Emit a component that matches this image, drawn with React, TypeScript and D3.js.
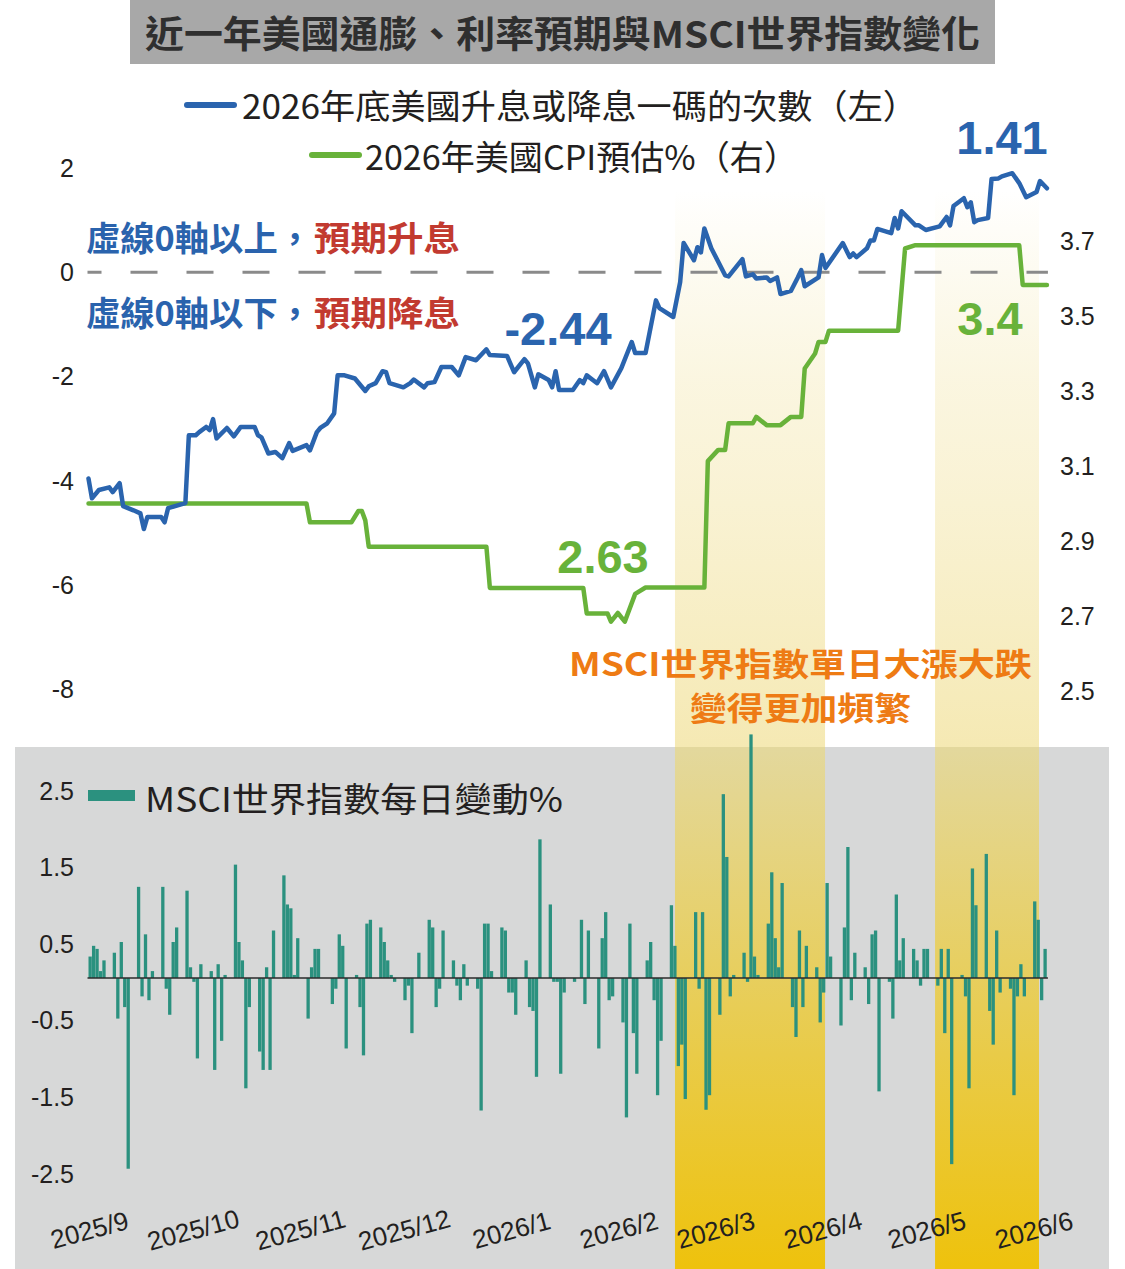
import React from 'react';
import * as d3 from 'd3';

const W = 1125;
const H = 1269;

const titleText = '近一年美國通膨、利率預期與MSCI世界指數變化';
const legendBlue = '2026年底美國升息或降息一碼的次數（左）';
const legendGreen = '2026年美國CPI預估%（右）';
const legendBar = 'MSCI世界指數每日變動%';
const noteUpBlue = '虛線0軸以上，';
const noteUpRed = '預期升息';
const noteDownBlue = '虛線0軸以下，';
const noteDownRed = '預期降息';
const orangeLine1 = 'MSCI世界指數單日大漲大跌';
const orangeLine2 = '變得更加頻繁';

const leftTicks = [2, 0, -2, -4, -6, -8];
const rightTicks = [3.7, 3.5, 3.3, 3.1, 2.9, 2.7, 2.5];
const barTicks = [2.5, 1.5, 0.5, -0.5, -1.5, -2.5];
const monthDates = ['2025-09-01', '2025-10-01', '2025-11-01', '2025-12-01', '2026-01-01', '2026-02-01', '2026-03-01', '2026-04-01', '2026-05-01', '2026-06-01'];
const monthLabels = ['2025/9', '2025/10', '2025/11', '2025/12', '2026/1', '2026/2', '2026/3', '2026/4', '2026/5', '2026/6'];

const blueDates = [
  '2025-09-01', '2025-09-02', '2025-09-04', '2025-09-07', '2025-09-08', '2025-09-10', '2025-09-11', '2025-09-14', '2025-09-16', '2025-09-17',
  '2025-09-18', '2025-09-22', '2025-09-23', '2025-09-24', '2025-09-28', '2025-09-29', '2025-09-30', '2025-10-02', '2025-10-03', '2025-10-05',
  '2025-10-06', '2025-10-07', '2025-10-08', '2025-10-11', '2025-10-13', '2025-10-15', '2025-10-19', '2025-10-20', '2025-10-21', '2025-10-23',
  '2025-10-25', '2025-10-27', '2025-10-29', '2025-10-30', '2025-11-03', '2025-11-04', '2025-11-06', '2025-11-07', '2025-11-09', '2025-11-11',
  '2025-11-12', '2025-11-14', '2025-11-17', '2025-11-20', '2025-11-21', '2025-11-23', '2025-11-25', '2025-11-26', '2025-11-27', '2025-12-01',
  '2025-12-03', '2025-12-04', '2025-12-07', '2025-12-08', '2025-12-10', '2025-12-12', '2025-12-15', '2025-12-17', '2025-12-19', '2025-12-22',
  '2025-12-25', '2025-12-26', '2025-12-31', '2026-01-02', '2026-01-05', '2026-01-06', '2026-01-08', '2026-01-09', '2026-01-12', '2026-01-13',
  '2026-01-14', '2026-01-15', '2026-01-16', '2026-01-19', '2026-01-21', '2026-01-22', '2026-01-23', '2026-01-26', '2026-01-28', '2026-01-30',
  '2026-02-02', '2026-02-05', '2026-02-06', '2026-02-09', '2026-02-12', '2026-02-13', '2026-02-17', '2026-02-19', '2026-02-20', '2026-02-23',
  '2026-02-24', '2026-02-25', '2026-02-26', '2026-02-28', '2026-03-04', '2026-03-05', '2026-03-09', '2026-03-10', '2026-03-12', '2026-03-13',
  '2026-03-16', '2026-03-17', '2026-03-19', '2026-03-20', '2026-03-23', '2026-03-25', '2026-03-26', '2026-03-27', '2026-03-31', '2026-04-01',
  '2026-04-02', '2026-04-07', '2026-04-09', '2026-04-10', '2026-04-11', '2026-04-14', '2026-04-15', '2026-04-16', '2026-04-17', '2026-04-21',
  '2026-04-22', '2026-04-23', '2026-04-24', '2026-04-28', '2026-04-29', '2026-05-01', '2026-05-05', '2026-05-07', '2026-05-08', '2026-05-09',
  '2026-05-12', '2026-05-13', '2026-05-14', '2026-05-15', '2026-05-16', '2026-05-19', '2026-05-20', '2026-05-22', '2026-05-23', '2026-05-26',
  '2026-05-28', '2026-05-30', '2026-06-02', '2026-06-03', '2026-06-05',
];
const blueValues = [
  -3.96, -4.34, -4.18, -4.13, -4.22, -4.05, -4.49, -4.57, -4.63, -4.93,
  -4.70, -4.70, -4.80, -4.53, -4.45, -4.43, -3.13, -3.13, -3.07, -2.97,
  -3.03, -2.82, -3.19, -2.99, -3.15, -2.97, -2.97, -3.13, -3.17, -3.48,
  -3.45, -3.57, -3.28, -3.43, -3.32, -3.42, -3.07, -2.99, -2.90, -2.71,
  -1.98, -1.98, -2.04, -2.28, -2.19, -2.13, -1.90, -1.92, -2.13, -2.21,
  -2.13, -2.06, -2.21, -2.13, -2.11, -1.82, -1.82, -1.98, -1.63, -1.69,
  -1.48, -1.59, -1.61, -1.92, -1.67, -1.75, -2.21, -1.96, -2.07, -2.21,
  -1.90, -2.26, -2.26, -2.26, -2.07, -2.13, -1.98, -2.13, -1.90, -2.21,
  -1.84, -1.34, -1.55, -1.55, -0.54, -0.69, -0.86, -0.19, 0.56, 0.23,
  0.48, 0.38, 0.84, 0.46, -0.06, -0.08, 0.25, -0.08, -0.04, -0.12,
  -0.10, -0.17, -0.10, -0.42, -0.36, -0.10, 0.04, -0.27, -0.10, 0.33,
  0.08, 0.56, 0.29, 0.36, 0.29, 0.46, 0.61, 0.61, 0.83, 0.75,
  1.04, 0.84, 1.17, 0.90, 0.90, 0.81, 0.88, 1.06, 0.90, 1.27,
  1.42, 1.25, 1.34, 0.96, 1.00, 1.04, 1.79, 1.80, 1.84, 1.90,
  1.71, 1.44, 1.54, 1.75, 1.61,
];

const greenDates = [
  '2025-09-01', '2025-11-03', '2025-11-04', '2025-11-16', '2025-11-18', '2025-11-19', '2025-11-20', '2025-11-21', '2025-12-25', '2025-12-26',
  '2026-01-22', '2026-01-23', '2026-01-29', '2026-01-30', '2026-02-01', '2026-02-03', '2026-02-06', '2026-02-09', '2026-02-26', '2026-02-27',
  '2026-03-02', '2026-03-04', '2026-03-05', '2026-03-12', '2026-03-13', '2026-03-16', '2026-03-20', '2026-03-23', '2026-03-26', '2026-03-27',
  '2026-03-30', '2026-03-31', '2026-04-02', '2026-04-03', '2026-04-23', '2026-04-25', '2026-04-28', '2026-05-28', '2026-05-29', '2026-06-05',
];
const greenValues = [
  3.0, 3.0, 2.95, 2.95, 2.98, 2.98, 2.955, 2.885, 2.885, 2.775,
  2.775, 2.707, 2.707, 2.685, 2.708, 2.685, 2.759, 2.776, 2.776, 3.113,
  3.143, 3.143, 3.214, 3.214, 3.231, 3.209, 3.209, 3.231, 3.231, 3.36,
  3.40, 3.431, 3.431, 3.461, 3.461, 3.68, 3.689, 3.689, 3.583, 3.583,
];

// MSCI World daily change %, one value per weekday starting 2025-09-01
const barValues = [
  0.28, 0.42, 0.38, 0.09, 0.23,
  0.33, -0.53, 0.47, -0.38, -2.49,
  1.19, -0.24, 0.57, -0.29, 0.09,
  1.19, -0.14, -0.48, 0.47, 0.66,
  1.14, 0.14, -0.05, -1.05, 0.18,
  0.09, -1.2, 0.18, -0.82, 0.04,
  1.48, 0.47, 0.23, -1.44, -0.38,
  -0.96, -1.2, 0.14, -1.2, 0.62,
  1.34, 0.96, 0.91, 0.04, 0.52,
  -0.53, 0.14, 0.38, 0.38, 0,
  -0.34, -0.14, 0.57, 0.42, -0.92,
  0.04, -0.38, -1.01, 0.71, 0.76,
  0.66, 0.47, 0.23, 0.04, -0.05,
  -0.29, -0.1, -0.72, 0, 0.33,
  0.76, 0.66, -0.38, -0.14, 0.62,
  0.23, -0.1, -0.29, 0.18, -0.1,
  -0.14, -1.73, 0.71, 0.71, 0.09,
  0.66, 0.62, -0.19, -0.19, -0.48,
  0.23, -0.38, -0.43, -1.29, 1.81,
  0.96, -0.05, -0.05, -1.25, -0.19,
  -0.05, 0, 0.76, -0.34, 0.62,
  -0.92, 0.52, 0.86, -0.29, -0.24,
  -0.58, -1.82, 0.71, -0.72, -1.25,
  0.23, 0.47, -0.29, -1.53, -0.82,
  0.95, 0.42, -1.15, -0.87, -1.58,
  0.86, -0.14, 0.86, -1.72, -1.53,
  -0.48, 2.4, 1.58, -0.24, 0.04,
  0.33, -0.05, 3.18, 0.28, 0.04,
  0.71, 1.38, 0.52, 0.14, 1.24,
  -0.38, -0.77, 0.62, -0.38, 0.42,
  0.14, -0.58, -0.19, 1.24, 0.28,
  -0.62, 0.66, 1.71, -0.29, 0.33,
  0.14, -0.34, 0.57, 0.62, -1.48,
  -0.05, -0.53, 1.09, 0.23, 0.52,
  0.38, 0.23, -0.1, 0.38, 0.38,
  -0.1, 0.38, -0.72, 0.38, -2.43,
  0.04, -0.24, -1.44, 1.43, 0.95,
  1.62, -0.43, -0.87, 0.62, -0.19,
  -0.14, -1.53, -0.24, 0.18, -0.24,
  1.0, 0.76, -0.29, 0.38,
];

const highlightStarts = ['2026-02-17 12', '2026-05-03 16'];
const highlightEnds = ['2026-04-01 21', '2026-06-02 17'];

const parseDay = d3.timeParse('%Y-%m-%d');
const parseHour = d3.timeParse('%Y-%m-%d %H');

const NUM_FONT = '"Liberation Sans", Arial, Helvetica, sans-serif';
const CJK_FONT = '"Noto Sans CJK TC", "Noto Sans CJK SC", sans-serif';
const TEXT = '#231f20';
const BLUE = '#2a64ae';
const GREEN = '#68b23a';
const TEAL = '#2b917f';
const ORANGE = '#ee7b14';
const RED = '#c23a30';

export default function App() {
  const x = d3
    .scaleTime()
    .domain([parseDay('2025-09-01') as Date, parseDay('2026-06-01') as Date])
    .range([88.5, 88.5 + 273 * 3.46]);
  const yLeft = d3.scaleLinear().domain([-8, 2]).range([689, 168]);
  const yRight = d3.scaleLinear().domain([2.5, 3.9]).range([691, 166]);
  const yBar = d3.scaleLinear().domain([-2.5, 2.5]).range([978 + 2.5 * 76.6, 978 - 2.5 * 76.6]);

  const blueData = blueDates.map((d, i) => ({ t: parseDay(d) as Date, v: blueValues[i] }));
  const greenData = greenDates.map((d, i) => ({ t: parseDay(d) as Date, v: greenValues[i] }));

  const blueLine = d3
    .line<{ t: Date; v: number }>()
    .x((d) => x(d.t))
    .y((d) => yLeft(d.v));
  const greenLine = d3
    .line<{ t: Date; v: number }>()
    .x((d) => x(d.t))
    .y((d) => yRight(d.v));

  const weekdays = d3
    .timeDay.range(parseDay('2025-09-01') as Date, parseDay('2026-06-30') as Date)
    .filter((d) => d.getDay() !== 0 && d.getDay() !== 6);
  const bars = barValues.map((v, i) => ({ t: weekdays[i], v }));

  const bands = highlightStarts.map((s, i) => ({
    x0: x(parseHour(s) as Date),
    x1: x(parseHour(highlightEnds[i]) as Date),
  }));

  const zeroY = yBar(0);
  const xStart = x(parseDay('2025-09-01') as Date) - 1;
  const xEnd = x(parseDay('2026-06-05') as Date) + 1;

  return (
    <svg
      width={W}
      height={H}
      viewBox={`0 0 ${W} ${H}`}
      style={{ position: 'absolute', left: 0, top: 0, display: 'block', background: '#fff' }}
    >
      <defs>
        <linearGradient id="bandTop" gradientUnits="userSpaceOnUse" x1="0" y1="190" x2="0" y2="747">
          <stop offset="0" stopColor="#f6ecbd" stopOpacity="0" />
          <stop offset="0.35" stopColor="#f7eec6" stopOpacity="0.55" />
          <stop offset="1" stopColor="#f5e9b3" stopOpacity="1" />
        </linearGradient>
        <linearGradient id="bandBottom" gradientUnits="userSpaceOnUse" x1="0" y1="747" x2="0" y2="1269">
          <stop offset="0" stopColor="#e3d89d" />
          <stop offset="0.5" stopColor="#e8cd55" />
          <stop offset="1" stopColor="#eec20c" />
        </linearGradient>
      </defs>

      <rect x={0} y={0} width={W} height={H} fill="#fff" />

      {/* Title */}
      <rect x={130} y={0} width={865} height={64} fill="#a8a8a8" />
      <text
        x={145}
        y={32}
        dominantBaseline="central"
        fontFamily={CJK_FONT}
        fontWeight={700}
        fontSize={37}
        fill="#2f2f2f"
        textLength={835}
        lengthAdjust="spacingAndGlyphs"
      >
        {titleText}
      </text>

      {/* Bottom panel background */}
      <rect x={15} y={747} width={1094} height={522} fill="#d7d8d8" />

      {/* Highlight bands */}
      {bands.map((b, i) => (
        <g key={`band${i}`}>
          <rect x={b.x0} y={190} width={b.x1 - b.x0} height={557} fill="url(#bandTop)" />
          <rect x={b.x0} y={747} width={b.x1 - b.x0} height={522} fill="url(#bandBottom)" />
        </g>
      ))}

      {/* Legend */}
      <line x1={187} y1={105} x2={234} y2={105} stroke={BLUE} strokeWidth={6} strokeLinecap="round" />
      <text
        x={242}
        y={104}
        dominantBaseline="central"
        fontFamily={CJK_FONT}
        fontSize={34}
        fill={TEXT}
        textLength={676}
        lengthAdjust="spacingAndGlyphs"
      >
        {legendBlue}
      </text>
      <line x1={312} y1={155} x2={359} y2={155} stroke={GREEN} strokeWidth={6} strokeLinecap="round" />
      <text
        x={365}
        y={155}
        dominantBaseline="central"
        fontFamily={CJK_FONT}
        fontSize={34}
        fill={TEXT}
        textLength={433}
        lengthAdjust="spacingAndGlyphs"
      >
        {legendGreen}
      </text>

      {/* Left axis labels */}
      {leftTicks.map((t) => (
        <text
          key={`l${t}`}
          x={74}
          y={yLeft(t)}
          textAnchor="end"
          dominantBaseline="central"
          fontFamily={NUM_FONT}
          fontSize={25}
          fill={TEXT}
        >
          {t}
        </text>
      ))}
      {/* Right axis labels */}
      {rightTicks.map((t) => (
        <text
          key={`r${t}`}
          x={1060}
          y={yRight(t)}
          dominantBaseline="central"
          fontFamily={NUM_FONT}
          fontSize={25}
          fill={TEXT}
        >
          {t.toFixed(1)}
        </text>
      ))}

      {/* Zero dashed line */}
      <line
        x1={xStart}
        y1={yLeft(0)}
        x2={xEnd}
        y2={yLeft(0)}
        stroke="#8a8a8a"
        strokeWidth={3}
        strokeDasharray="27 29"
        strokeDashoffset={13}
      />

      {/* Notes */}
      <text x={86} y={236} dominantBaseline="central" fontFamily={CJK_FONT} fontWeight={700} fontSize={34} fill="#2a63ad" textLength={226} lengthAdjust="spacingAndGlyphs">
        {noteUpBlue}
      </text>
      <text x={314} y={236} dominantBaseline="central" fontFamily={CJK_FONT} fontWeight={700} fontSize={34} fill={RED} textLength={146} lengthAdjust="spacingAndGlyphs">
        {noteUpRed}
      </text>
      <text x={86} y={311} dominantBaseline="central" fontFamily={CJK_FONT} fontWeight={700} fontSize={34} fill="#2a63ad" textLength={226} lengthAdjust="spacingAndGlyphs">
        {noteDownBlue}
      </text>
      <text x={314} y={311} dominantBaseline="central" fontFamily={CJK_FONT} fontWeight={700} fontSize={34} fill={RED} textLength={146} lengthAdjust="spacingAndGlyphs">
        {noteDownRed}
      </text>

      {/* Lines */}
      <path d={greenLine(greenData) || ''} fill="none" stroke={GREEN} strokeWidth={4.5} strokeLinejoin="round" strokeLinecap="round" />
      <path d={blueLine(blueData) || ''} fill="none" stroke={BLUE} strokeWidth={4.5} strokeLinejoin="round" strokeLinecap="round" />

      {/* Value callouts */}
      <text x={558} y={328} textAnchor="middle" dominantBaseline="central" fontFamily={NUM_FONT} fontWeight={700} fontSize={47} fill={BLUE}>
        -2.44
      </text>
      <text x={1002} y={137} textAnchor="middle" dominantBaseline="central" fontFamily={NUM_FONT} fontWeight={700} fontSize={47} fill={BLUE}>
        1.41
      </text>
      <text x={603} y={556} textAnchor="middle" dominantBaseline="central" fontFamily={NUM_FONT} fontWeight={700} fontSize={47} fill={GREEN}>
        2.63
      </text>
      <text x={990} y={318} textAnchor="middle" dominantBaseline="central" fontFamily={NUM_FONT} fontWeight={700} fontSize={47} fill={GREEN}>
        3.4
      </text>

      {/* Orange note */}
      <text x={569} y={662} dominantBaseline="central" fontFamily={CJK_FONT} fontWeight={700} fontSize={32} fill={ORANGE} textLength={463} lengthAdjust="spacingAndGlyphs">
        {orangeLine1}
      </text>
      <text x={690} y={706} dominantBaseline="central" fontFamily={CJK_FONT} fontWeight={700} fontSize={32} fill={ORANGE} textLength={221} lengthAdjust="spacingAndGlyphs">
        {orangeLine2}
      </text>

      {/* Bars */}
      {bars.map((b, i) =>
        b.v === 0 ? null : (
          <rect
            key={`b${i}`}
            x={x(b.t)}
            y={Math.min(yBar(b.v), zeroY)}
            width={3.3}
            height={Math.abs(yBar(b.v) - zeroY)}
            fill={TEAL}
          />
        )
      )}
      <line x1={xStart} y1={zeroY} x2={xEnd} y2={zeroY} stroke="#2b2b2b" strokeWidth={1.6} />

      {/* Bar axis labels */}
      {barTicks.map((t) => (
        <text
          key={`bt${t}`}
          x={74}
          y={yBar(t) + 4}
          textAnchor="end"
          dominantBaseline="central"
          fontFamily={NUM_FONT}
          fontSize={25}
          fill={TEXT}
        >
          {t.toFixed(1)}
        </text>
      ))}

      {/* Bar legend */}
      <rect x={88} y={790} width={47} height={11} fill={TEAL} />
      <text
        x={145}
        y={797}
        dominantBaseline="central"
        fontFamily={CJK_FONT}
        fontSize={34}
        fill={TEXT}
        textLength={418}
        lengthAdjust="spacingAndGlyphs"
      >
        {legendBar}
      </text>

      {/* Month labels */}
      {monthDates.map((m, i) => {
        const cx = x(parseDay(m) as Date) + 1;
        const cy = 1230;
        return (
          <text
            key={`m${m}`}
            x={cx}
            y={cy}
            textAnchor="middle"
            dominantBaseline="central"
            fontFamily={NUM_FONT}
            fontSize={26}
            fill={TEXT}
            transform={`rotate(-15 ${cx} ${cy})`}
          >
            {monthLabels[i]}
          </text>
        );
      })}
    </svg>
  );
}
